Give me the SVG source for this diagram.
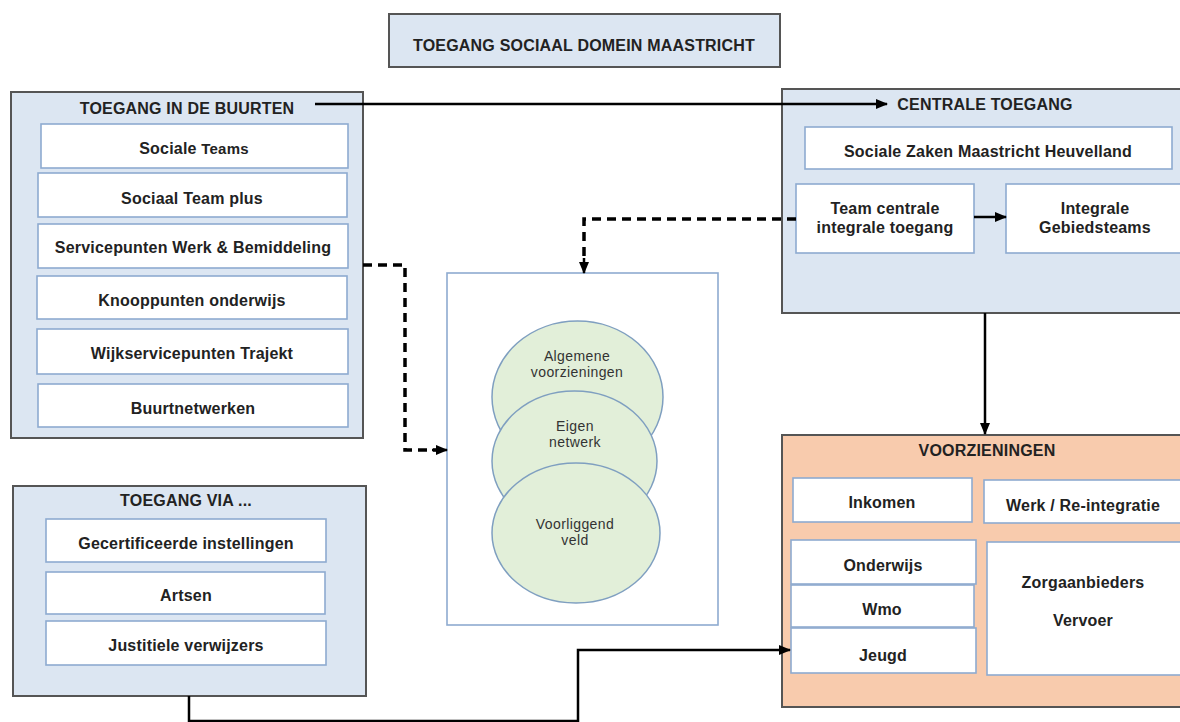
<svg xmlns="http://www.w3.org/2000/svg" width="1180" height="722" viewBox="0 0 1180 722">
<defs>
<marker id="arr" markerUnits="userSpaceOnUse" markerWidth="12" markerHeight="10" refX="11" refY="5" orient="auto">
<path d="M0,0 L12,5 L0,10 Z" fill="#000"/>
</marker>
<style>
.cont{fill:#dce6f2;stroke:#555;stroke-width:2}
.orange{fill:#f8cbad;stroke:#555;stroke-width:2}
.inner{fill:#fff;stroke:#8eabd0;stroke-width:1.6}
.ell{fill:#e2efd9;stroke:#7f9fc0;stroke-width:1.5}
.t{font-family:"Liberation Sans",Arial,sans-serif;font-weight:bold;font-size:16px;letter-spacing:0.2px;fill:#222;text-anchor:middle}
.tn{font-family:"Liberation Sans",Arial,sans-serif;font-size:14px;letter-spacing:0.4px;fill:#333;text-anchor:middle}
.solid{fill:none;stroke:#000;stroke-width:2.5}
.dash{fill:none;stroke:#000;stroke-width:3.5;stroke-dasharray:9 6}
</style>
</defs>
<rect width="1180" height="722" fill="#fff"/>

<g id="title">
<rect x="389" y="14" width="391" height="53" class="cont"/>
<text x="584" y="51" class="t">TOEGANG SOCIAAL DOMEIN MAASTRICHT</text>
</g>

<g id="buurten">
<rect x="11" y="92" width="352" height="346" class="cont"/>
<text x="187" y="114" class="t">TOEGANG IN DE BUURTEN</text>
<rect x="41" y="124" width="307" height="44" class="inner"/>
<text x="194" y="154" class="t">Sociale <tspan font-size="15">Teams</tspan></text>
<rect x="38" y="173" width="309" height="44" class="inner"/>
<text x="192" y="204" class="t">Sociaal Team plus</text>
<rect x="38" y="224" width="310" height="44" class="inner"/>
<text x="193" y="253" class="t">Servicepunten Werk &amp; Bemiddeling</text>
<rect x="37" y="276" width="310" height="43" class="inner"/>
<text x="192" y="306" class="t">Knooppunten onderwijs</text>
<rect x="37" y="329" width="311" height="45" class="inner"/>
<text x="192" y="359" class="t">Wijkservicepunten Trajekt</text>
<rect x="38" y="384" width="310" height="43" class="inner"/>
<text x="193" y="414" class="t">Buurtnetwerken</text>
</g>

<g id="via">
<rect x="13" y="486" width="353" height="210" class="cont"/>
<text x="186" y="506" class="t">TOEGANG VIA ...</text>
<rect x="46" y="519" width="280" height="43" class="inner"/>
<text x="186" y="549" class="t">Gecertificeerde instellingen</text>
<rect x="46" y="572" width="279" height="42" class="inner"/>
<text x="186" y="601" class="t">Artsen</text>
<rect x="46" y="621" width="280" height="44" class="inner"/>
<text x="186" y="651" class="t">Justitiele verwijzers</text>
</g>

<g id="centrum">
<rect x="447" y="273" width="271" height="352" fill="#fff" stroke="#8eabd0" stroke-width="1.6"/>
<ellipse cx="577.5" cy="397" rx="85.5" ry="76" class="ell"/>
<ellipse cx="574.5" cy="461" rx="82.5" ry="70" class="ell"/>
<ellipse cx="576" cy="533" rx="84" ry="70" class="ell"/>
<text x="577" y="361" class="tn">Algemene</text>
<text x="577" y="377" class="tn">voorzieningen</text>
<text x="575" y="431" class="tn">Eigen</text>
<text x="575" y="447" class="tn">netwerk</text>
<text x="575" y="529" class="tn">Voorliggend</text>
<text x="575" y="545" class="tn">veld</text>
</g>

<g id="centrale">
<rect x="782" y="89" width="410" height="224" class="cont"/>
<text x="985" y="110" class="t">CENTRALE TOEGANG</text>
<rect x="805" y="127" width="367" height="42" class="inner"/>
<text x="988" y="157" class="t">Sociale Zaken Maastricht Heuvelland</text>
<rect x="796" y="184" width="178" height="69" class="inner"/>
<text x="885" y="214" class="t">Team centrale</text>
<text x="885" y="233" class="t">integrale toegang</text>
<rect x="1006" y="184" width="180" height="69" class="inner"/>
<text x="1095" y="214" class="t">Integrale</text>
<text x="1095" y="233" class="t">Gebiedsteams</text>
</g>

<g id="voorzieningen">
<rect x="782" y="435" width="410" height="272" class="orange"/>
<text x="987" y="456" class="t">VOORZIENINGEN</text>
<rect x="793" y="478" width="179" height="44" class="inner"/>
<text x="882" y="508" class="t">Inkomen</text>
<rect x="984" y="480" width="200" height="43" class="inner"/>
<text x="1083" y="511" class="t">Werk / Re-integratie</text>
<rect x="791" y="540" width="185" height="44" class="inner"/>
<text x="883" y="571" class="t">Onderwijs</text>
<rect x="791" y="585" width="183" height="42" class="inner"/>
<text x="882" y="615" class="t">Wmo</text>
<rect x="791" y="628" width="185" height="45" class="inner"/>
<text x="883" y="661" class="t">Jeugd</text>
<rect x="987" y="542" width="200" height="133" class="inner"/>
<text x="1083" y="588" class="t">Zorgaanbieders</text>
<text x="1083" y="626" class="t">Vervoer</text>
</g>

<g id="connectors">
<path d="M315,104 H887" class="solid" stroke-width="2.2" marker-end="url(#arr)"/>
<path d="M974,217 H1006" class="solid" stroke-width="2.2" marker-end="url(#arr)"/>
<path d="M985,313 V434" class="solid" stroke-width="2.2" marker-end="url(#arr)"/>
<path d="M363,265 H405 V450 H437" class="dash"/>
<path d="M432,450 H447" class="solid" stroke-width="3" marker-end="url(#arr)"/>
<path d="M796,219 H584 V262" class="dash"/>
<path d="M584,258 V273" class="solid" stroke-width="3" marker-end="url(#arr)"/>
<path d="M189,696 V721 H578 V650 H790" class="solid" stroke-width="3" marker-end="url(#arr)"/>
</g>
</svg>
